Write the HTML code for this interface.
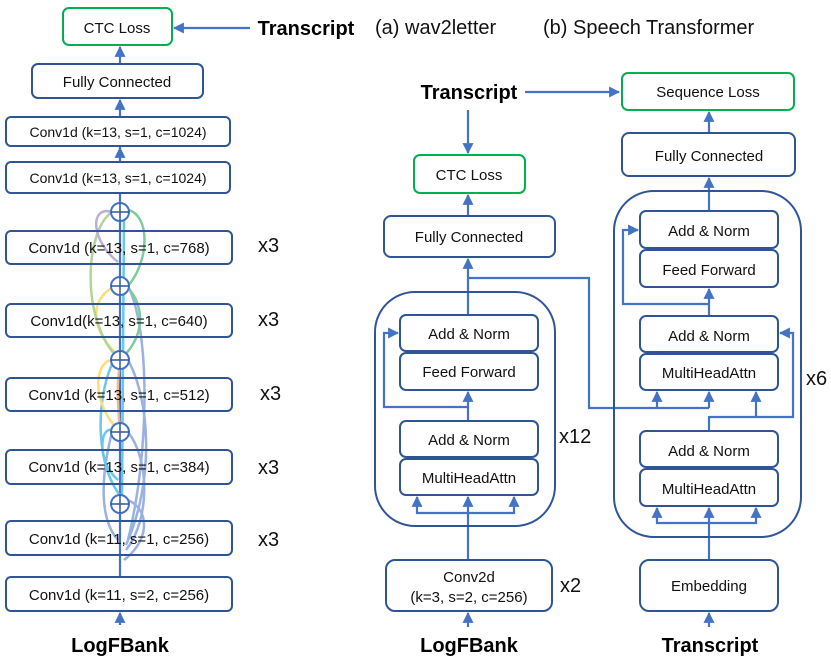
<!DOCTYPE html>
<html><head><meta charset="utf-8"><style>
html,body{margin:0;padding:0;background:#fff;}
svg{display:block;font-family:"Liberation Sans",sans-serif;}
</style></head><body>
<svg width="831" height="663" viewBox="0 0 831 663" xmlns="http://www.w3.org/2000/svg">
<defs>
<marker id="a" viewBox="0 0 10 10" refX="9" refY="5" markerWidth="5" markerHeight="5" orient="auto-start-reverse"><path d="M0,0L10,5L0,10z" fill="#4472c4"/></marker>
</defs>
<g fill="none" stroke="#4472c4" stroke-width="2.2">
<line x1="120" y1="625" x2="120" y2="613" marker-end="url(#a)"/>
<line x1="120" y1="577" x2="120" y2="114" />
<line x1="120" y1="160" x2="120" y2="148" marker-end="url(#a)"/>
<line x1="120" y1="114" x2="120" y2="100" marker-end="url(#a)"/>
<line x1="120" y1="64" x2="120" y2="47" marker-end="url(#a)"/>
<line x1="250" y1="28" x2="174" y2="28" marker-end="url(#a)"/>
<line x1="468" y1="627" x2="468" y2="613" marker-end="url(#a)"/>
<line x1="468" y1="560" x2="468" y2="513"/>
<polyline points="417,497 417,513 514,513 514,497"/>
<line x1="417" y1="505" x2="417" y2="497" marker-end="url(#a)"/>
<line x1="468" y1="513" x2="468" y2="497" marker-end="url(#a)"/>
<line x1="514" y1="505" x2="514" y2="497" marker-end="url(#a)"/>
<line x1="468" y1="421" x2="468" y2="392" marker-end="url(#a)"/>
<polyline points="468,407 384,407 384,333 398,333" marker-end="url(#a)"/>
<line x1="468" y1="315" x2="468" y2="259" marker-end="url(#a)"/>
<polyline points="468,278 589,278 589,408 709,408"/>
<line x1="657" y1="408" x2="657" y2="392" marker-end="url(#a)"/>
<line x1="709" y1="408" x2="709" y2="392" marker-end="url(#a)"/>
<line x1="468" y1="110" x2="468" y2="153" marker-end="url(#a)"/>
<line x1="468" y1="216" x2="468" y2="195" marker-end="url(#a)"/>
<line x1="525" y1="92" x2="619" y2="92" marker-end="url(#a)"/>
<line x1="709" y1="627" x2="709" y2="613" marker-end="url(#a)"/>
<line x1="709" y1="560" x2="709" y2="523"/>
<polyline points="657,508 657,523 756,523 756,508"/>
<line x1="657" y1="515" x2="657" y2="508" marker-end="url(#a)"/>
<line x1="709" y1="523" x2="709" y2="508" marker-end="url(#a)"/>
<line x1="756" y1="515" x2="756" y2="508" marker-end="url(#a)"/>
<line x1="709" y1="431" x2="709" y2="416"/>
<polyline points="709,417 793,417 793,333 780,333" marker-end="url(#a)"/>
<line x1="756" y1="417" x2="756" y2="392" marker-end="url(#a)"/>
<line x1="709" y1="316" x2="709" y2="289" marker-end="url(#a)"/>
<polyline points="709,304 623,304 623,230 638,230" marker-end="url(#a)"/>
<line x1="709" y1="211" x2="709" y2="178" marker-end="url(#a)"/>
<line x1="709" y1="133" x2="709" y2="112" marker-end="url(#a)"/>
</g>
<g fill="none" stroke-width="2.5" opacity="0.9">
<path d="M118,540 C100,520 100,480 112,432" stroke="#8faadc"/>
<path d="M124,560 C150,540 150,510 128,500" stroke="#8faadc"/>
<path d="M126,550 C150,520 150,460 128,432" stroke="#8faadc"/>
<path d="M126,545 C155,480 150,400 128,360" stroke="#8faadc"/>
<path d="M128,540 C150,450 150,330 128,286" stroke="#8faadc"/>
<path d="M124,500 C95,470 95,400 113,362" stroke="#5bc0eb"/>
<path d="M118,480 C95,460 100,420 116,432" stroke="#5bc0eb"/>
<path d="M122,500 C122,420 124,300 124,220" stroke="#5bc0eb"/>
<path d="M118,430 C90,400 95,360 113,360" stroke="#ffd966"/>
<path d="M120,430 C115,380 120,370 120,360" stroke="#f4b183"/>
<path d="M118,355 C90,330 90,300 112,288" stroke="#ffd966"/>
<path d="M118,358 C80,320 85,230 112,212" stroke="#a9d18e"/>
<path d="M122,358 C150,330 140,300 128,288" stroke="#70c88e"/>
<path d="M128,286 C150,260 150,215 128,210" stroke="#70c88e"/>
<path d="M118,262 C90,240 90,205 112,212" stroke="#b4a7d6"/>
</g>
<g fill="#fff" stroke="#4472c4" stroke-width="2">
<circle cx="120" cy="212" r="9"/><circle cx="120" cy="286" r="9"/><circle cx="120" cy="360" r="9"/><circle cx="120" cy="432" r="9"/><circle cx="120" cy="504" r="9"/>
</g>
<g stroke="#2f5597" stroke-width="1.5">
<line x1="111" y1="212" x2="129" y2="212"/><line x1="120" y1="203" x2="120" y2="221"/>
<line x1="111" y1="286" x2="129" y2="286"/><line x1="120" y1="277" x2="120" y2="295"/>
<line x1="111" y1="360" x2="129" y2="360"/><line x1="120" y1="351" x2="120" y2="369"/>
<line x1="111" y1="432" x2="129" y2="432"/><line x1="120" y1="423" x2="120" y2="441"/>
<line x1="111" y1="504" x2="129" y2="504"/><line x1="120" y1="495" x2="120" y2="513"/>
</g>
<g fill="#fff" stroke="#2f5597" stroke-width="2">
<rect x="32" y="64" width="171" height="34" rx="6"/>
<rect x="6" y="117" width="224" height="29" rx="5"/>
<rect x="6" y="162" width="224" height="31" rx="5"/>
<rect x="6" y="231" width="226" height="33" rx="5" fill="none"/>
<rect x="6" y="304" width="226" height="33" rx="5" fill="none"/>
<rect x="6" y="378" width="226" height="33" rx="5" fill="none"/>
<rect x="6" y="450" width="226" height="34" rx="5" fill="none"/>
<rect x="6" y="521" width="226" height="34" rx="5" fill="none"/>
<rect x="6" y="577" width="226" height="34" rx="5"/>
<rect x="384" y="216" width="171" height="41" rx="7"/>
<rect x="375" y="292" width="180" height="234" rx="40" fill="none"/>
<rect x="400" y="315" width="138" height="36" rx="6"/>
<rect x="400" y="353" width="138" height="37" rx="6"/>
<rect x="400" y="421" width="138" height="36" rx="6"/>
<rect x="400" y="459" width="138" height="36" rx="6"/>
<rect x="386" y="560" width="166" height="51" rx="9"/>
<rect x="622" y="133" width="173" height="43" rx="7"/>
<rect x="614" y="191" width="187" height="346" rx="40" fill="none"/>
<rect x="640" y="211" width="138" height="37" rx="6"/>
<rect x="640" y="250" width="138" height="37" rx="6"/>
<rect x="640" y="316" width="138" height="36" rx="6"/>
<rect x="640" y="354" width="138" height="36" rx="6"/>
<rect x="640" y="431" width="138" height="36" rx="6"/>
<rect x="640" y="469" width="138" height="37" rx="6"/>
<rect x="640" y="560" width="138" height="51" rx="9"/>
</g>
<g fill="#fff" stroke="#00b050" stroke-width="2">
<rect x="63" y="8" width="109" height="37" rx="6"/>
<rect x="414" y="155" width="111" height="38" rx="6"/>
<rect x="622" y="73" width="172" height="37" rx="6"/>
</g>
<g fill="#111" font-size="15" text-anchor="middle">
<text x="117" y="33">CTC Loss</text>
<text x="117" y="87">Fully Connected</text>
<text x="118" y="137" font-size="14">Conv1d (k=13, s=1, c=1024)</text>
<text x="118" y="183" font-size="14">Conv1d (k=13, s=1, c=1024)</text>
<text x="119" y="253">Conv1d (k=13, s=1, c=768)</text>
<text x="119" y="326">Conv1d(k=13, s=1, c=640)</text>
<text x="119" y="400">Conv1d (k=13, s=1, c=512)</text>
<text x="119" y="472">Conv1d (k=13, s=1, c=384)</text>
<text x="119" y="544">Conv1d (k=11, s=1, c=256)</text>
<text x="119" y="600">Conv1d (k=11, s=2, c=256)</text>
<text x="469" y="180">CTC Loss</text>
<text x="469" y="242">Fully Connected</text>
<text x="469" y="339">Add &amp; Norm</text>
<text x="469" y="377">Feed Forward</text>
<text x="469" y="445">Add &amp; Norm</text>
<text x="469" y="483">MultiHeadAttn</text>
<text x="469" y="582">Conv2d</text>
<text x="469" y="602">(k=3, s=2, c=256)</text>
<text x="708" y="97">Sequence Loss</text>
<text x="709" y="161">Fully Connected</text>
<text x="709" y="236">Add &amp; Norm</text>
<text x="709" y="275">Feed Forward</text>
<text x="709" y="341">Add &amp; Norm</text>
<text x="709" y="378">MultiHeadAttn</text>
<text x="709" y="456">Add &amp; Norm</text>
<text x="709" y="494">MultiHeadAttn</text>
<text x="709" y="591">Embedding</text>
</g>
<g fill="#111" font-size="20">
<text x="258" y="252">x3</text>
<text x="258" y="326">x3</text>
<text x="260" y="400">x3</text>
<text x="258" y="474">x3</text>
<text x="258" y="546">x3</text>
<text x="559" y="443">x12</text>
<text x="560" y="592">x2</text>
<text x="806" y="385">x6</text>
<text x="375" y="34">(a) wav2letter</text>
<text x="543" y="34">(b) Speech Transformer</text>
</g>
<g fill="#000" font-size="20" font-weight="bold" text-anchor="middle">
<text x="306" y="35">Transcript</text>
<text x="469" y="99">Transcript</text>
<text x="120" y="652">LogFBank</text>
<text x="469" y="652">LogFBank</text>
<text x="710" y="652">Transcript</text>
</g>
</svg>
</body></html>
